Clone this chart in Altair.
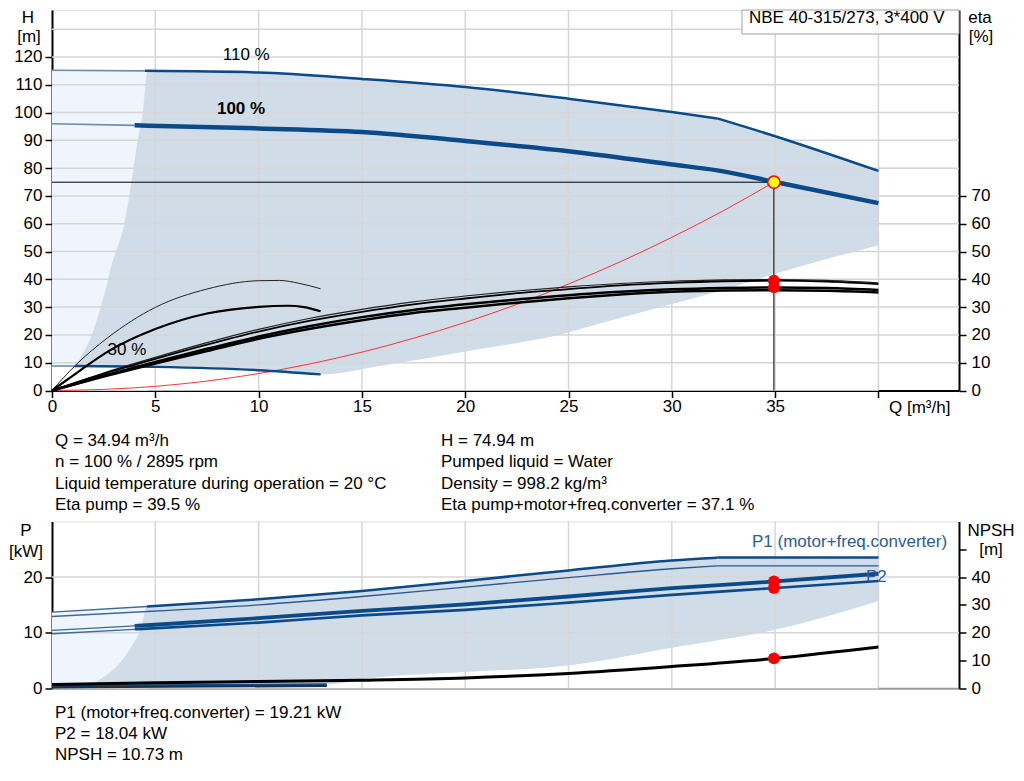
import altair as alt
import pandas as pd

FONT = "Liberation Sans"
FS = 17
BLUE = "#0b4a88"
THIN_BLUE = "#6f8cad"
GREY_AREA = "#d0dce8"
LIGHT_AREA = "#eef5fc"
GRID = "#d6d6d6"

# ---------------- top chart (H / eta) ----------------
Q_110_THIN = [0, 4.5]
H_110_THIN = [115.2, 115.0]
Q_110 = [4.5, 10, 15, 20, 25, 30, 32.2]
H_110 = [115.0, 114.4, 112.1, 109.2, 105.0, 100.2, 97.9]
Q_110_END = [32.2, 35, 40]
H_110_END = [97.9, 91.5, 79.0]

Q_100_THIN = [0, 4]
H_100_THIN = [96.0, 95.4]
Q_100 = [4, 10, 15, 20, 25, 30, 32.2, 35, 40]
H_100 = [95.4, 94.3, 93.0, 89.8, 86.1, 81.3, 79.2, 75.0, 67.4]

Q_30_THIN = [0, 1.1]
H_30_THIN = [8.8, 8.8]
Q_30 = [1.1, 5, 10, 13]
H_30 = [8.8, 8.5, 7.3, 5.8]

Q_LEFT = [1.1, 1.25, 2.05, 2.53, 2.94, 3.1, 3.5, 3.74, 4.15, 4.4, 4.63]
H_LEFT = [8.8, 10.4, 22.5, 34.5, 46.5, 50, 60, 70, 90, 100, 115.0]

Q_LOW = [13, 16, 20, 25, 26.6, 30, 32.4, 35, 40]
H_LOW = [5.8, 9.0, 14.0, 20.9, 24.3, 31.1, 36.0, 42.0, 52.3]

Q_LIGHT = [0, 4.63]
H_LIGHT = [115.2, 115.0]

Q_SYS = [0, 2.5, 5, 7.5, 10, 12.5, 15, 17.5, 20, 22.5, 25, 27.5, 30, 32.5, 34.94]
H_SYS = [0, 0.4, 1.5, 3.4, 6.1, 9.6, 13.8, 18.8, 24.5, 31.0, 38.3, 46.3, 55.1, 64.7, 74.94]

Q_ETA = [0, 2.5, 5, 7.5, 10, 12.5, 15, 17.5, 20, 22.5, 25, 27.5, 30, 32.5, 35, 37.5, 40]
ETA_A = [0, 6.3, 11.9, 17.2, 22.0, 26.0, 29.2, 31.9, 34.0, 35.8, 37.3, 38.5, 39.3, 39.8, 39.9, 39.6, 38.7]
ETA_B = [0, 6.0, 11.4, 16.5, 21.2, 25.1, 28.3, 31.0, 33.1, 35.0, 36.5, 37.8, 38.7, 39.3, 39.5, 39.2, 38.3]
ETA_C = [0, 5.3, 10.3, 15.0, 19.4, 23.2, 26.4, 29.0, 31.0, 32.7, 34.3, 35.5, 36.4, 36.9, 37.1, 36.9, 36.2]
ETA_D = [0, 5.0, 9.7, 14.2, 18.6, 22.2, 25.3, 27.9, 29.8, 31.6, 33.2, 34.5, 35.5, 36.0, 36.1, 35.9, 35.3]

Q_ETA_E = [0, 1.1, 2.7, 5, 7.5, 10, 11, 12, 13]
ETA_E = [0, 8.8, 19.0, 29.9, 36.5, 39.5, 39.6, 38.5, 36.6]
Q_ETA_F = [0, 1.1, 2.7, 5, 7.5, 10, 11.4, 12.2, 13]
ETA_F = [0, 5.8, 14.0, 22.1, 27.7, 30.1, 30.5, 30.0, 28.5]

Q_OP = 34.94
H_OP = 74.94
ETA_PUMP = 39.5
ETA_TOTAL = 37.1

GRID_Q = [5, 10, 15, 20, 25, 30, 35, 40]
GRID_H = [10, 20, 30, 40, 50, 60, 70, 80, 90, 100, 110, 120, 130]

# ---------------- bottom chart (P / NPSH) ----------------
Q_P110_THIN = [0, 4.6]
P1_110_THIN = [13.7, 14.7]
P2_110_THIN = [12.9, 13.8]
Q_P110 = [4.6, 10, 15, 20, 25, 30, 32.2]
P1_110 = [14.7, 16.0, 17.5, 19.3, 21.2, 23.0, 23.5]
P2_110 = [13.8, 15.0, 16.5, 18.2, 19.9, 21.5, 22.0]
Q_P110_END = [32.2, 40]
P1_110_END = [23.5, 23.5]
P2_110_END = [22.0, 22.0]

Q_P100_THIN = [0, 4]
P1_100_THIN = [10.4, 11.2]
P2_100_THIN = [9.8, 10.6]
Q_P100 = [4, 10, 15, 20, 25, 30, 35, 40]
P1_100 = [11.2, 12.6, 13.9, 15.1, 16.5, 18.0, 19.21, 20.6]
P2_100 = [10.6, 11.8, 13.1, 14.1, 15.4, 16.8, 18.04, 19.3]

Q_P30 = [0, 1.3, 13.3]
P1_30 = [0.35, 0.45, 0.65]
P2_30 = [0.1, 0.15, 0.4]

Q_PLEFT = [1.7, 2.5, 3.2, 3.8, 4.3, 4.6]
P_PLEFT = [0.45, 2.0, 4.2, 7.2, 10.8, 14.7]
Q_PLOW = [13.3, 15.4, 20, 25, 30, 35, 40]
P_PLOW = [0.65, 1.8, 2.9, 4.1, 7.3, 10.5, 15.7]
Q_PLIGHT = [0, 4.6]
P_PLIGHT = [13.7, 14.7]

Q_NPSH = [0, 5, 10, 15, 20, 25, 30, 35, 40]
NPSH = [1.3, 2.0, 2.4, 2.9, 3.7, 5.3, 7.8, 10.73, 14.8]

P1_OP = 19.21
P2_OP = 18.04
NPSH_OP = 10.73

GRID_P = [10, 20]

TEXT_LEFT = ["Q = 34.94 m³/h", "n = 100 % / 2895 rpm",
             "Liquid temperature during operation = 20 °C", "Eta pump = 39.5 %"]
TEXT_RIGHT = ["H = 74.94 m", "Pumped liquid = Water", "Density = 998.2 kg/m³",
              "Eta pump+motor+freq.converter = 37.1 %"]
TEXT_BOTTOM = ["P1 (motor+freq.converter) = 19.21 kW", "P2 = 18.04 kW", "NPSH = 10.73 m"]
TITLE_BOX = "NBE 40-315/273, 3*400 V"

# ---------------- layout ----------------
W = 907
H_TOP = 380.5
H_BOT = 166.7

xscale = alt.Scale(domain=[0, 43.9], nice=False, zero=False)
hscale = alt.Scale(domain=[0, 136.9], nice=False, zero=False)
escale = alt.Scale(domain=[0, 136.9], nice=False, zero=False)
pscale = alt.Scale(domain=[0, 30], nice=False, zero=False)
nscale = alt.Scale(domain=[0, 60], nice=False, zero=False)


def axis(**kw):
    base = dict(title=None, grid=False, domainColor="black", domainWidth=2,
                tickColor="black", tickWidth=1.5, tickSize=7, labelFont=FONT,
                labelFontSize=FS, labelColor="black", labelOverlap=False)
    base.update(kw)
    return alt.Axis(**base)


AX_Q_TOP = axis(values=[0] + GRID_Q,
                labelExpr="datum.value == 40 ? '' : datum.label",
                labelPadding=1, labelFlush=False)
AX_H = axis(values=[0] + GRID_H[:-1], labelPadding=3)
AX_ETA = axis(orient="right", values=[0, 10, 20, 30, 40, 50, 60, 70], labelPadding=5)
AX_Q_BOT = axis(ticks=False, labels=False, domainColor="#9a9a9a")
AX_P = axis(values=[0, 10, 20], labelPadding=3)
AX_NPSH = axis(orient="right", values=[0, 10, 20, 30, 40, 50],
               labelExpr="datum.value == 50 ? '' : datum.label", labelPadding=5)

ONE = pd.DataFrame({"k": [0]})


def frame(q, v):
    return pd.DataFrame({"q": q, "v": v})


class Panel:
    def __init__(self, xa, ys, ya):
        self.xa, self.ys, self.ya = xa, ys, ya

    def enc(self):
        return dict(x=alt.X("q:Q", scale=xscale, axis=self.xa),
                    y=alt.Y("v:Q", scale=self.ys, axis=self.ya))

    def line(self, q, v, color, width, interp="monotone"):
        return alt.Chart(frame(q, v)).mark_line(
            color=color, strokeWidth=width, interpolate=interp).encode(**self.enc())

    def area(self, q, v, color, interp="monotone"):
        return alt.Chart(frame(q, v)).mark_area(
            color=color, opacity=1, interpolate=interp).encode(**self.enc())

    def dots(self, q, v, **kw):
        return alt.Chart(frame(q, v)).mark_circle(opacity=1, **kw).encode(**self.enc())

    def dtext(self, txt, q, v, **kw):
        base = dict(font=FONT, fontSize=FS, color="black")
        base.update(kw)
        return alt.Chart(frame([q], [v])).mark_text(text=txt, **base).encode(**self.enc())

    def vgrid(self, qs):
        return alt.Chart(pd.DataFrame({"q": qs})).mark_rule(color=GRID, strokeWidth=1.5).encode(
            x=alt.X("q:Q", scale=xscale, axis=self.xa))

    def hgrid(self, vs):
        return alt.Chart(pd.DataFrame({"v": vs})).mark_rule(color=GRID, strokeWidth=1.5).encode(
            y=alt.Y("v:Q", scale=self.ys, axis=self.ya))


def ptext(txt, x, y, align="left", baseline="middle", color="black", weight="normal"):
    return alt.Chart(ONE).mark_text(text=txt, align=align, baseline=baseline, color=color,
                                    fontWeight=weight, font=FONT, fontSize=FS).encode(
        x=alt.value(x), y=alt.value(y))


# ---------- top chart ----------
TH = Panel(AX_Q_TOP, hscale, AX_H)
TE = Panel(AX_Q_TOP, escale, AX_ETA)

h_layers = [
    TH.area(Q_LIGHT, H_LIGHT, LIGHT_AREA),
    TH.area(Q_LEFT + Q_110[1:] + Q_110_END[1:], H_LEFT + H_110[1:] + H_110_END[1:], GREY_AREA),
    TH.area(Q_30_THIN + Q_30[1:] + Q_LOW[1:], H_30_THIN + H_30[1:] + H_LOW[1:], "white"),
    TH.vgrid(GRID_Q),
    TH.hgrid(GRID_H),
    TH.line(Q_SYS, H_SYS, "#ff2020", 0.9),
    TH.line(Q_110_THIN, H_110_THIN, THIN_BLUE, 1.6),
    TH.line(Q_110, H_110, BLUE, 2.5),
    TH.line(Q_110_END, H_110_END, BLUE, 2.5),
    TH.line(Q_100_THIN, H_100_THIN, THIN_BLUE, 1.6),
    TH.line(Q_100, H_100, BLUE, 4.5),
    TH.line(Q_30_THIN, H_30_THIN, THIN_BLUE, 1.6),
    TH.line(Q_30, H_30, BLUE, 2.5),
    alt.Chart(pd.DataFrame({"q": [0], "q2": [Q_OP], "v": [H_OP]})).mark_rule(
        color="black", strokeWidth=1).encode(
        x=alt.X("q:Q", scale=xscale, axis=AX_Q_TOP), x2="q2:Q",
        y=alt.Y("v:Q", scale=hscale, axis=AX_H)),
    alt.Chart(pd.DataFrame({"q": [Q_OP], "v": [0], "v2": [H_OP]})).mark_rule(
        color="black", strokeWidth=1).encode(
        x=alt.X("q:Q", scale=xscale, axis=AX_Q_TOP),
        y=alt.Y("v:Q", scale=hscale, axis=AX_H), y2="v2:Q"),
    TH.dtext("110 %", 9.4, 120.7),
    TH.dtext("100 %", 9.15, 101.3, fontWeight="bold"),
    TH.dtext("30 %", 3.63, 14.5),
    # legend box and axis captions
    alt.Chart(ONE).mark_rect(fill="white", stroke="#a0a0a0", strokeWidth=1).encode(
        x=alt.value(690), x2=alt.value(907), y=alt.value(0), y2=alt.value(24)),
    ptext(TITLE_BOX, 697, 8),
    ptext("H", -24, 0, align="center", baseline="top"),
    ptext("[m]", -23, 27, align="center"),
    ptext("eta", 928, 0, align="center", baseline="top"),
    ptext("[%]", 929, 27, align="center"),
    ptext("Q [m³/h]", 837, 398),
    # left anchor (white, invisible)
    alt.Chart(ONE).mark_rule(color="white", strokeWidth=1).encode(
        x=alt.value(-42.5), y=alt.value(200), y2=alt.value(201)),
]
for i, t in enumerate(TEXT_LEFT):
    h_layers.append(ptext(t, 3, 431 + i * 21.3))
for i, t in enumerate(TEXT_RIGHT):
    h_layers.append(ptext(t, 389, 431 + i * 21.3))

e_layers = [
    TE.line(Q_ETA_E, ETA_E, "#222222", 1.0),
    TE.line(Q_ETA_F, ETA_F, "black", 2.2),
    TE.line(Q_ETA, ETA_A, "#222222", 1.2),
    TE.line(Q_ETA, ETA_B, "black", 1.8),
    TE.line(Q_ETA, ETA_C, "black", 2.5),
    TE.line(Q_ETA, ETA_D, "black", 2.5),
    TE.dots([Q_OP, Q_OP], [ETA_PUMP, ETA_TOTAL], color="#ff0000", size=140),
]

yellow = TH.dots([Q_OP], [H_OP], fill="#ffff00", stroke="#ff0000", strokeWidth=1.5, size=150)

top = alt.layer(alt.layer(*h_layers, yellow), alt.layer(*e_layers)).resolve_scale(
    y="independent").properties(width=W, height=H_TOP)

# ---------- bottom chart ----------
BP = Panel(AX_Q_BOT, pscale, AX_P)
BN = Panel(AX_Q_BOT, nscale, AX_NPSH)

p_layers = [
    BP.area(Q_PLIGHT, P_PLIGHT, LIGHT_AREA),
    BP.area(Q_PLEFT + Q_P110[1:] + Q_P110_END[1:], P_PLEFT + P1_110[1:] + P1_110_END[1:],
            GREY_AREA),
    BP.area(Q_P30 + Q_PLOW[1:], P1_30 + P_PLOW[1:], "white"),
    BP.vgrid(GRID_Q),
    BP.hgrid(GRID_P),
    BP.line(Q_P110_THIN, P1_110_THIN, "#3d6898", 1.3),
    BP.line(Q_P110, P1_110, BLUE, 2.5),
    BP.line(Q_P110_END, P1_110_END, BLUE, 2.5, "linear"),
    BP.line(Q_P110_THIN, P2_110_THIN, "#3d6898", 1.3),
    BP.line(Q_P110, P2_110, "#2a5a90", 1.3),
    BP.line(Q_P110_END, P2_110_END, "#2a5a90", 1.3, "linear"),
    BP.line(Q_P100_THIN, P1_100_THIN, "#3d6898", 1.3),
    BP.line(Q_P100, P1_100, BLUE, 3.8),
    BP.line(Q_P100_THIN, P2_100_THIN, "#3d6898", 1.3),
    BP.line(Q_P100, P2_100, BLUE, 2.6),
    BP.line(Q_P30, P1_30, BLUE, 2.5),
    BP.line(Q_P30, P2_30, "#1b2f48", 2.0),
    BP.dtext("P1 (motor+freq.converter)", 38.6, 26.4, color="#2a5d94", align="center"),
    BP.dtext("P2", 39.9, 20.1, color="#2a5d94", align="center"),
    BP.dots([Q_OP, Q_OP], [P1_OP, P2_OP], color="#ff0000", size=140),
    ptext("P", -26, 9, align="center"),
    ptext("[kW]", -26, 30, align="center"),
    ptext("NPSH", 939, 9, align="center"),
    ptext("[m]", 939, 28, align="center"),
]
for i, t in enumerate(TEXT_BOTTOM):
    p_layers.append(ptext(t, 3, 191 + i * 21))

n_layers = [
    BN.line(Q_NPSH, NPSH, "black", 3),
    BN.dots([Q_OP], [NPSH_OP], color="#ff0000", size=140),
]

bottom = alt.layer(alt.layer(*p_layers), alt.layer(*n_layers)).resolve_scale(
    y="independent").properties(width=W, height=H_BOT)

chart = alt.vconcat(top, bottom, spacing=130.5, bounds="flush").resolve_scale(
    x="independent", y="independent").properties(
    padding={"left": 0, "top": 0, "right": 0, "bottom": 0}).configure_view(
    stroke="#a8a8a8", strokeWidth=1).configure(font=FONT)

chart.save("out.html", embed_options={"renderer": "svg", "actions": False})
